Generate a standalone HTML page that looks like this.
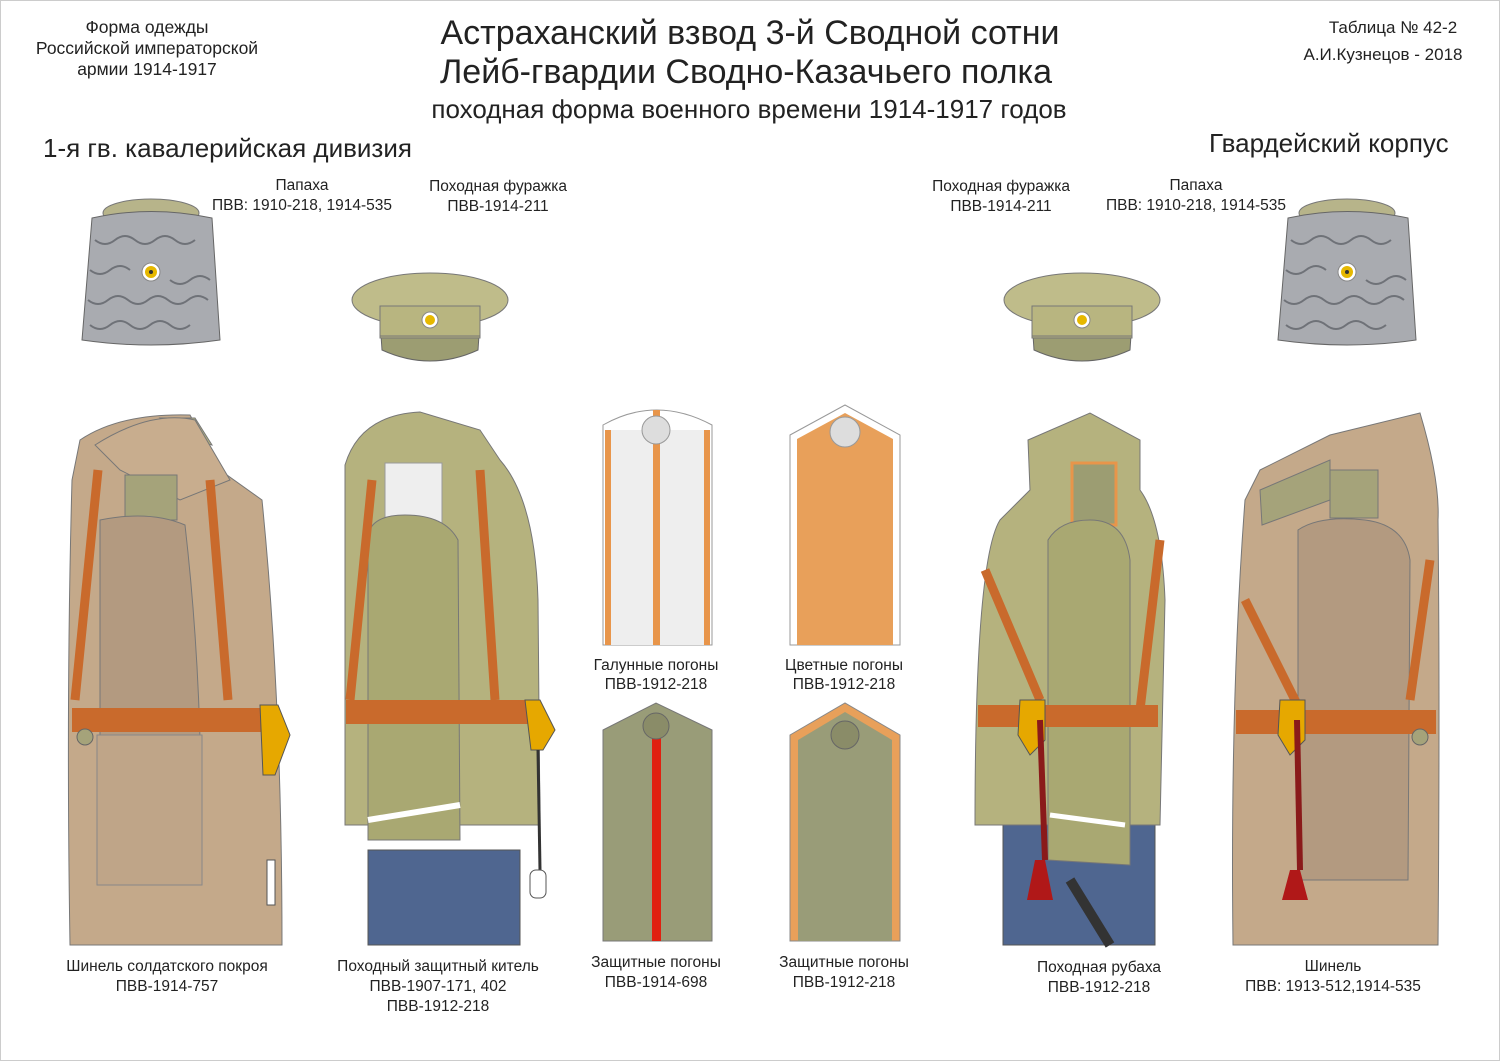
<!DOCTYPE html>
<html><head><meta charset="utf-8"><style>
html,body{margin:0;padding:0;background:#fff}
svg{display:block}
text{font-family:"Liberation Sans",sans-serif;fill:#222}
</style></head><body>
<svg width="1500" height="1061" viewBox="0 0 1500 1061" xmlns="http://www.w3.org/2000/svg">
<rect x="0.5" y="0.5" width="1499" height="1060" fill="#fff" stroke="#ccc"/>
<!-- header -->
<g text-anchor="middle">
<text x="147" y="33" font-size="17.5">Форма одежды</text>
<text x="147" y="54" font-size="17.5">Российской императорской</text>
<text x="147" y="75" font-size="17.5">армии  1914-1917</text>
<text x="750" y="44" font-size="34">Астраханский взвод 3-й Сводной сотни</text>
<text x="746" y="83" font-size="34">Лейб-гвардии Сводно-Казачьего полка</text>
<text x="749" y="118" font-size="26">походная форма военного времени 1914-1917 годов</text>
<text x="1393" y="33" font-size="17">Таблица № 42-2</text>
<text x="1383" y="60" font-size="17">А.И.Кузнецов - 2018</text>
</g>
<text x="43" y="157" font-size="26">1-я гв. кавалерийская дивизия</text>
<text x="1209" y="152" font-size="26">Гвардейский корпус</text>
<g text-anchor="middle" font-size="15.5">
<text x="302" y="190">Папаха</text><text x="302" y="210">ПВВ: 1910-218, 1914-535</text>
<text x="498" y="191">Походная фуражка</text><text x="498" y="211">ПВВ-1914-211</text>
<text x="1001" y="191">Походная фуражка</text><text x="1001" y="211">ПВВ-1914-211</text>
<text x="1196" y="190">Папаха</text><text x="1196" y="210">ПВВ: 1910-218, 1914-535</text>
<text x="656" y="670">Галунные погоны</text><text x="656" y="689">ПВВ-1912-218</text>
<text x="844" y="670">Цветные погоны</text><text x="844" y="689">ПВВ-1912-218</text>
<text x="656" y="967">Защитные погоны</text><text x="656" y="987">ПВВ-1914-698</text>
<text x="844" y="967">Защитные  погоны</text><text x="844" y="987">ПВВ-1912-218</text>
<text x="167" y="971">Шинель солдатского покроя</text><text x="167" y="991">ПВВ-1914-757</text>
<text x="438" y="971">Походный защитный китель</text><text x="438" y="991">ПВВ-1907-171, 402</text><text x="438" y="1011">ПВВ-1912-218</text>
<text x="1099" y="972">Походная рубаха</text><text x="1099" y="992">ПВВ-1912-218</text>
<text x="1333" y="971">Шинель</text><text x="1333" y="991">ПВВ: 1913-512,1914-535</text>
</g>
<!-- papakhas -->
<g id="pap">
<ellipse cx="151" cy="213" rx="48" ry="14" fill="#b7b48a" stroke="#777"/>
<path d="M92 218 Q151 205 212 218 L220 340 Q151 350 82 340 Z" fill="#a9abb0" stroke="#666"/>
<path d="M95 240 q10 8 20 0 t20 0 t20 0 t20 0 t20 0 M90 270 q10 8 20 0 t20 0 M170 280 q10 8 20 0 t20 0 M88 300 q10 8 20 0 t20 0 t20 0 t20 0 t20 0 t20 0 M90 325 q10 8 20 0 t20 0 t20 0 t20 0 t20 0" stroke="#6f7278" fill="none" stroke-width="2"/>
<circle cx="151" cy="272" r="9" fill="#fff" stroke="#888"/><circle cx="151" cy="272" r="6" fill="#e6b800"/><circle cx="151" cy="272" r="2" fill="#333"/>
</g>
<use href="#pap" x="1196"/>
<!-- caps -->
<g id="cap">
<path d="M380 320 L480 320 L478 350 Q430 372 382 350 Z" fill="#9c9d72" stroke="#666"/>
<rect x="380" y="304" width="100" height="34" fill="#b5b27e" stroke="#777"/>
<ellipse cx="430" cy="300" rx="78" ry="27" fill="#bfbc8a" stroke="#777"/>
<rect x="380" y="306" width="100" height="30" fill="#b8b580" stroke="#777"/>
<circle cx="430" cy="320" r="8" fill="#fff" stroke="#888"/><circle cx="430" cy="320" r="5" fill="#e6b800"/>
</g>
<use href="#cap" x="652"/>
<!-- left greatcoat -->
<path d="M80 440 Q120 413 190 415 L220 470 L262 500 Q282 700 282 945 L70 945 Q66 700 72 480 Z" fill="#c4a98a" stroke="#777"/>
<path d="M160 418 L195 418 L212 445 L190 440 Z" fill="#b5b27e" stroke="#777"/>
<path d="M95 445 Q150 410 195 420 L230 480 L180 500 L120 470 Z" fill="#c8ad8e" stroke="#777"/>
<rect x="125" y="475" width="52" height="45" fill="#a5a37a" stroke="#777"/>
<path d="M100 520 Q150 510 185 525 Q205 700 200 885 L100 885 Z" fill="#b39a80" stroke="#777"/>
<rect x="97" y="735" width="105" height="150" fill="#bfa588" stroke="#888"/>
<path d="M75 700 L98 470 M210 480 L228 700" stroke="#c96a2c" stroke-width="9" fill="none"/>
<rect x="72" y="708" width="190" height="24" fill="#c96a2c"/>
<circle cx="85" cy="737" r="8" fill="#a5a37a" stroke="#666"/>
<path d="M260 705 l18 0 l12 30 l-15 40 l-12 0 z" fill="#e6a800" stroke="#555"/>
<rect x="267" y="860" width="8" height="45" fill="#fff" stroke="#555"/>
<!-- kitel -->
<rect x="368" y="850" width="152" height="95" fill="#4f6690" stroke="#555"/>
<path d="M345 465 Q360 415 420 412 L480 430 L500 460 Q535 500 538 600 L540 825 L345 825 Z" fill="#b5b27e" stroke="#777"/>
<rect x="385" y="463" width="57" height="60" fill="#eee" stroke="#999"/>
<path d="M368 535 Q372 515 405 515 Q445 515 458 540 L460 840 L368 840 Z" fill="#a9a872" stroke="#777"/>
<path d="M368 820 L460 805" stroke="#fff" stroke-width="6"/>
<path d="M350 700 L372 480 M480 470 L495 700" stroke="#c96a2c" stroke-width="9" fill="none"/>
<rect x="346" y="700" width="190" height="24" fill="#c96a2c"/>
<path d="M525 700 l15 0 l15 30 l-12 20 l-12 0 z" fill="#e6a800" stroke="#555"/>
<path d="M538 750 L540 870" stroke="#333" stroke-width="3"/>
<rect x="530" y="870" width="16" height="28" rx="6" fill="#fff" stroke="#555"/>
<!-- galun pogon -->
<path d="M603 425 Q656 395 712 425 L712 645 L603 645 Z" fill="#fff" stroke="#999"/>
<rect x="610" y="430" width="95" height="215" fill="#eee"/>
<rect x="605" y="430" width="6" height="215" fill="#e8954a"/><rect x="653" y="410" width="7" height="235" fill="#e8954a"/><rect x="704" y="430" width="6" height="215" fill="#e8954a"/>
<circle cx="656" cy="430" r="14" fill="#ddd" stroke="#999"/>
<!-- colour pogon -->
<path d="M790 435 L845 405 L900 435 L900 645 L790 645 Z" fill="#fff" stroke="#999"/>
<path d="M797 439 L845 413 L893 439 L893 645 L797 645 Z" fill="#e8a05a"/>
<circle cx="845" cy="432" r="15" fill="#ddd" stroke="#999"/>
<!-- protective pogons -->
<path d="M603 730 L656 703 L712 730 L712 941 L603 941 Z" fill="#999c78" stroke="#777"/>
<rect x="652" y="735" width="9" height="206" fill="#e02010"/>
<circle cx="656" cy="726" r="13" fill="#8a8c68" stroke="#666"/>
<path d="M790 735 L845 703 L900 735 L900 941 L790 941 Z" fill="#e8a05a" stroke="#888"/>
<path d="M798 740 L845 712 L892 740 L892 941 L798 941 Z" fill="#999c78"/>
<circle cx="845" cy="735" r="14" fill="#8a8c68" stroke="#666"/>
<!-- rubakha right -->
<rect x="1003" y="820" width="152" height="125" fill="#4f6690" stroke="#555"/>
<path d="M1070 880 L1110 945" stroke="#333" stroke-width="10"/>
<path d="M1028 440 L1090 413 L1140 440 L1140 490 Q1162 520 1165 600 L1160 825 L975 825 Q975 560 1000 520 L1030 490 Z" fill="#b5b27e" stroke="#777"/>
<rect x="1072" y="463" width="44" height="62" fill="#9c9d72" stroke="#e8954a" stroke-width="3"/>
<path d="M1048 540 Q1060 520 1090 520 Q1125 520 1130 560 L1130 865 L1048 860 Z" fill="#a9a872" stroke="#777"/>
<path d="M1050 815 L1125 825" stroke="#fff" stroke-width="5"/>
<path d="M985 570 L1040 700 M1160 540 L1140 710" stroke="#c96a2c" stroke-width="9" fill="none"/>
<rect x="978" y="705" width="180" height="22" fill="#c96a2c"/>
<path d="M1020 700 l25 0 l0 40 l-15 15 l-12 -20 z" fill="#e6a800" stroke="#555"/>
<path d="M1040 720 L1045 860" stroke="#8a1a1a" stroke-width="6"/>
<path d="M1035 860 l10 0 l8 40 l-26 0 z" fill="#b01818"/>
<!-- right greatcoat -->
<path d="M1260 470 L1330 435 L1420 413 Q1440 480 1438 520 Q1440 700 1438 945 L1233 945 Q1230 700 1245 500 Z" fill="#c4a98a" stroke="#777"/>
<path d="M1260 490 L1330 460 L1330 500 L1262 525 Z" fill="#a5a37a" stroke="#777"/>
<rect x="1330" y="470" width="48" height="48" fill="#a5a37a" stroke="#777"/>
<path d="M1298 530 Q1320 515 1365 520 Q1405 525 1410 560 L1408 880 L1298 880 Z" fill="#b39a80" stroke="#777"/>
<path d="M1245 600 L1300 710 M1430 560 L1410 700" stroke="#c96a2c" stroke-width="9" fill="none"/>
<rect x="1236" y="710" width="200" height="24" fill="#c96a2c"/>
<circle cx="1420" cy="737" r="8" fill="#a5a37a" stroke="#666"/>
<path d="M1280 700 l25 0 l0 40 l-15 15 l-12 -20 z" fill="#e6a800" stroke="#555"/>
<path d="M1297 720 L1300 870" stroke="#8a1a1a" stroke-width="6"/>
<path d="M1290 870 l10 0 l8 30 l-26 0 z" fill="#b01818"/>
</svg>
</body></html>
